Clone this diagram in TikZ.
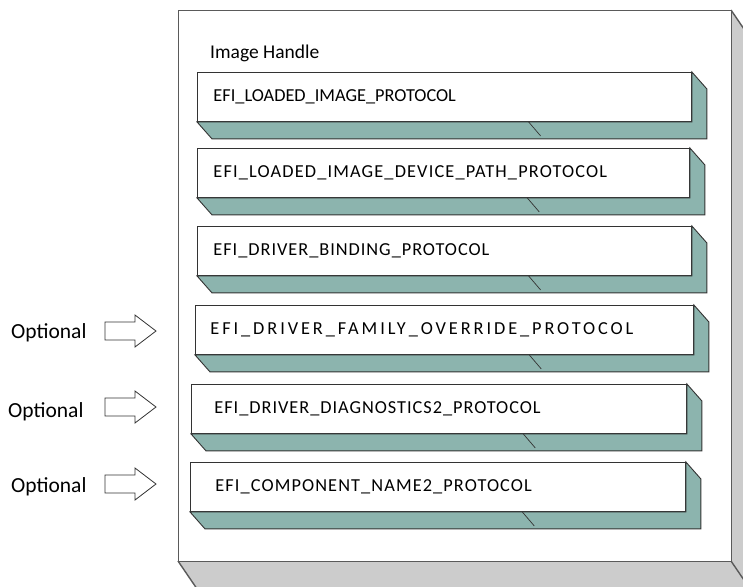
\documentclass[tikz,border=0pt]{standalone}
\usepackage{fontspec}
\setmainfont{Carlito}
\usetikzlibrary{calc}
\definecolor{shadeteal}{RGB}{140,180,174}
\definecolor{sidegray}{RGB}{204,204,204}
\definecolor{edgegray}{RGB}{90,90,90}
\begin{document}
\begin{tikzpicture}[x=1pt,y=-1pt,
  outerline/.style={draw=edgegray,line width=1.4pt},
  protobox/.style={draw=black!80,line width=0.9pt,fill=white,anchor=north west,
    minimum height=49pt,inner ysep=0pt,align=left,font=\fontsize{18.3}{21}\selectfont},
  protoshade/.style={fill=shadeteal,draw=black!80,line width=0.9pt,line join=miter},
  tick/.style={draw=black!80,line width=0.7pt},
  optlabel/.style={anchor=west,inner sep=0pt,font=\fontsize{21.5}{24}\selectfont},
  blockarrow/.style={draw=black!80,line width=0.8pt,fill=white,line join=miter}]
\useasboundingbox (0,0) rectangle (743,586);
% outer 3D box
\begin{scope}
\clip (0,0) rectangle (743,586);
\fill[sidegray] (178,561) -- (208,605) -- (761,605) -- (761,54) -- (731,10) -- (731,561) -- cycle;
\draw[outerline] (178,561) -- (208,605);
\draw[outerline] (731,561) -- (761,605);
\draw[outerline] (731,10) -- (761,54);
\end{scope}
\node[outerline,fill=white,anchor=north west,minimum width=553pt,minimum height=551pt,inner sep=0pt] (handle) at (178,10) {};
\node[anchor=base west,inner sep=0pt,font=\fontsize{19.5}{22}\selectfont] (title) at (210,58) {Image Handle};
% protocol boxes
\newcommand\protoitem[7]{%
  \node[protobox,inner xsep=#5pt,text width=#4pt-2*#5pt] (#1) at (#2,#3) {\addfontfeature{LetterSpace=#7}#6};
  \path[protoshade] (#1.south west) -- ([shift={(15,17)}]#1.south west) -- ([shift={(15,17)}]#1.south east)
     -- ([shift={(15,17)}]#1.north east) -- (#1.north east) -- (#1.south east) -- cycle;
  \draw[tick] ($(#1.south west)!0.67!(#1.south east)$) -- ++(12,14);
}
\protoitem{p1}{197}{72}{494}{16}{EFI\_LOADED\_IMAGE\_PROTOCOL}{0}
\protoitem{p2}{197}{148}{492}{16}{EFI\_LOADED\_IMAGE\_DEVICE\_PATH\_PROTOCOL}{6.3}
\protoitem{p3}{197}{226}{494}{16}{EFI\_DRIVER\_BINDING\_PROTOCOL}{5.3}
\protoitem{p4}{195}{305}{498}{15}{EFI\_DRIVER\_FAMILY\_OVERRIDE\_PROTOCOL}{16}
\protoitem{p5}{191}{384}{495}{23}{EFI\_DRIVER\_DIAGNOSTICS2\_PROTOCOL}{5.3}
\protoitem{p6}{190}{462}{495}{25}{EFI\_COMPONENT\_NAME2\_PROTOCOL}{6}
% optional labels and block arrows
\newcommand\optitem[4]{%
  \node[optlabel] (#1) at (#2,#3) {Optional};
  \draw[blockarrow] (105,#4-9) -- (135,#4-9) -- (135,#4-16) -- (156,#4) -- (135,#4+16) -- (135,#4+9) -- (105,#4+9) -- cycle;
}
\optitem{o1}{11}{333}{331}
\optitem{o2}{8}{412}{407}
\optitem{o3}{11}{487}{484}
\end{tikzpicture}
\end{document}
